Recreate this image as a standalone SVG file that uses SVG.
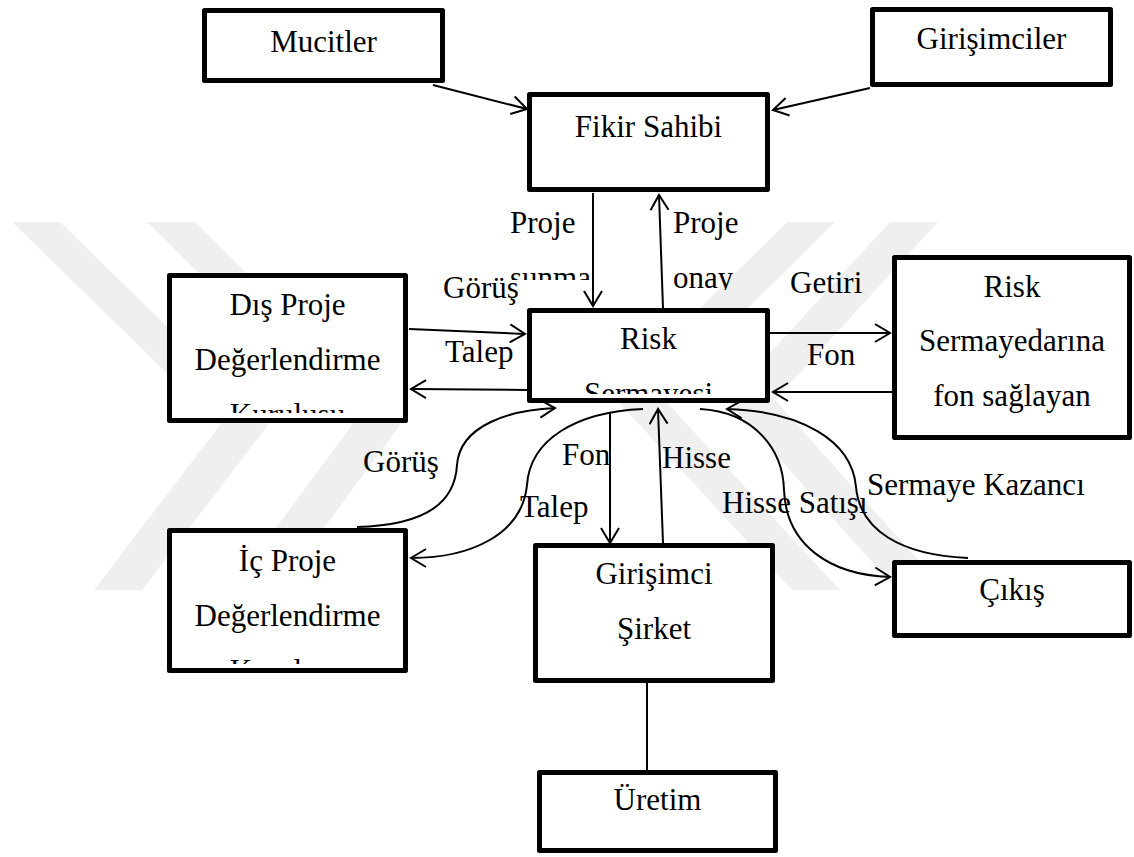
<svg xmlns="http://www.w3.org/2000/svg" width="1134" height="857" viewBox="0 0 1134 857" font-family="'Liberation Serif', 'Times New Roman', Times, 'DejaVu Serif', serif">
  <style>
    .box { fill: #fff; stroke: #000; stroke-width: 5; stroke-linejoin: round; }
    text { font-family: 'Liberation Serif', 'Times New Roman', Times, 'DejaVu Serif', serif; font-size: 31px; fill: #000; }
    .mid { text-anchor: middle; }
    .edge { fill: none; stroke: #000; stroke-width: 2; }
    .wm { fill: #efefef; }
  </style>
  <defs>
    <marker id="arr" viewBox="-17 -10 19 20" markerWidth="19" markerHeight="20" refX="0" refY="0" orient="auto" markerUnits="userSpaceOnUse">
      <path d="M-15,-9 L0,0 L-15,9" fill="none" stroke="#000" stroke-width="2"/>
    </marker>
    <clipPath id="clip-dis"><rect x="170" y="276" width="236" height="137"/></clipPath>
    <clipPath id="clip-ic"><rect x="170" y="531" width="236" height="133"/></clipPath>
    <clipPath id="clip-risk"><rect x="530" y="311" width="238" height="83"/></clipPath>
    <clipPath id="clip-sunma"><rect x="500" y="200" width="92" height="80"/></clipPath>
    <clipPath id="clip-onay"><rect x="666" y="200" width="90" height="90"/></clipPath>
  </defs>

  <rect width="1134" height="857" fill="#fff"/>

  <!-- faint background emblem -->
  <g id="emblem">
    <polygon class="wm" points="12,222 60,222 268,425 142,590 94,590 220,425"/>
    <polygon class="wm" points="147,222 195,222 400,425 278,590 230,590 352,425"/>
    <polygon class="wm" points="787,222 835,222 660,395 840,590 792,590 612,395"/>
    <polygon class="wm" points="890,222 938,222 775,400 945,590 897,590 727,400"/>
  </g>

  <!-- connectors -->
  <g id="connectors">
    <path class="edge" d="M433,85 L527,109" marker-end="url(#arr)"/>
    <path class="edge" d="M870,88 L773,110" marker-end="url(#arr)"/>
    <path class="edge" d="M593,193 L593,306" marker-end="url(#arr)"/>
    <path class="edge" d="M663,308 L659,195" marker-end="url(#arr)"/>
    <path class="edge" d="M409,329 L525,334" marker-end="url(#arr)"/>
    <path class="edge" d="M527,390 L411,389" marker-end="url(#arr)"/>
    <path class="edge" d="M770,333 L890,333" marker-end="url(#arr)"/>
    <path class="edge" d="M892,392 L773,392" marker-end="url(#arr)"/>
    <path class="edge" d="M610,412 L610,543" marker-end="url(#arr)"/>
    <path class="edge" d="M663,543 L658,409" marker-end="url(#arr)"/>
    <path class="edge" d="M357,527 C430,525 455,500 457,465 C460,425 510,410 555,408" marker-end="url(#arr)"/>
    <path class="edge" d="M643,409 C575,412 530,440 527,485 C522,535 470,558 411,558" marker-end="url(#arr)"/>
    <path class="edge" d="M700,409 C755,412 783,450 784,490 C786,545 830,575 890,577" marker-end="url(#arr)"/>
    <path class="edge" d="M968,558 C900,555 860,530 856,487 C852,440 800,411 727,409" marker-end="url(#arr)"/>
    <path class="edge" d="M647,683 L647,770"/>
  </g>

  <!-- connector labels -->
  <g id="edge-labels">
    <text x="510" y="233">Proje</text>
    <text x="510" y="288" clip-path="url(#clip-sunma)">sunma</text>
    <text x="673" y="233">Proje</text>
    <text x="673" y="288" clip-path="url(#clip-onay)">onay</text>
    <text x="443" y="298">Görüş</text>
    <text x="445" y="362">Talep</text>
    <text x="790" y="293">Getiri</text>
    <text x="807" y="365">Fon</text>
    <text x="363" y="472">Görüş</text>
    <text x="562" y="465">Fon</text>
    <text x="520" y="517">Talep</text>
    <text x="662" y="468">Hisse</text>
    <text x="722" y="513">Hisse Satışı</text>
    <text x="867" y="495">Sermaye Kazancı</text>
  </g>

  <!-- nodes -->
  <g id="mucitler">
    <rect class="box" x="204.5" y="10.5" width="238" height="70"/>
    <text class="mid" x="323.5" y="52">Mucitler</text>
  </g>
  <g id="girisimciler">
    <rect class="box" x="872.5" y="9.5" width="238" height="75"/>
    <text class="mid" x="991.5" y="49">Girişimciler</text>
  </g>
  <g id="fikir-sahibi">
    <rect class="box" x="529.5" y="94.5" width="238" height="95"/>
    <text class="mid" x="648.5" y="137">Fikir Sahibi</text>
  </g>
  <g id="risk-sermayesi">
    <rect class="box" x="529.5" y="310.5" width="238" height="90"/>
    <g clip-path="url(#clip-risk)">
      <text class="mid" x="648.5" y="349">Risk</text>
      <text class="mid" x="648.5" y="404">Sermayesi</text>
    </g>
  </g>
  <g id="dis-proje">
    <rect class="box" x="169.5" y="275.5" width="236" height="145"/>
    <g clip-path="url(#clip-dis)">
      <text class="mid" x="287.5" y="315">Dış Proje</text>
      <text class="mid" x="287.5" y="370">Değerlendirme</text>
      <text class="mid" x="287.5" y="425">Kuruluşu</text>
    </g>
  </g>
  <g id="ic-proje">
    <rect class="box" x="169.5" y="530.5" width="236" height="140"/>
    <g clip-path="url(#clip-ic)">
      <text class="mid" x="287.5" y="571">İç Proje</text>
      <text class="mid" x="287.5" y="626">Değerlendirme</text>
      <text class="mid" x="287.5" y="681">Kuruluşu</text>
    </g>
  </g>
  <g id="fon-saglayan">
    <rect class="box" x="894.5" y="257.5" width="235" height="180"/>
    <text class="mid" x="1012" y="297">Risk</text>
    <text class="mid" x="1012" y="351">Sermayedarına</text>
    <text class="mid" x="1012" y="406">fon sağlayan</text>
  </g>
  <g id="girisimci-sirket">
    <rect class="box" x="535.5" y="545.5" width="237" height="135"/>
    <text class="mid" x="654" y="584">Girişimci</text>
    <text class="mid" x="654" y="639">Şirket</text>
  </g>
  <g id="cikis">
    <rect class="box" x="894.5" y="562.5" width="235" height="73"/>
    <text class="mid" x="1012" y="600">Çıkış</text>
  </g>
  <g id="uretim">
    <rect class="box" x="539.5" y="772.5" width="236" height="78"/>
    <text class="mid" x="657.5" y="810">Üretim</text>
  </g>
</svg>
